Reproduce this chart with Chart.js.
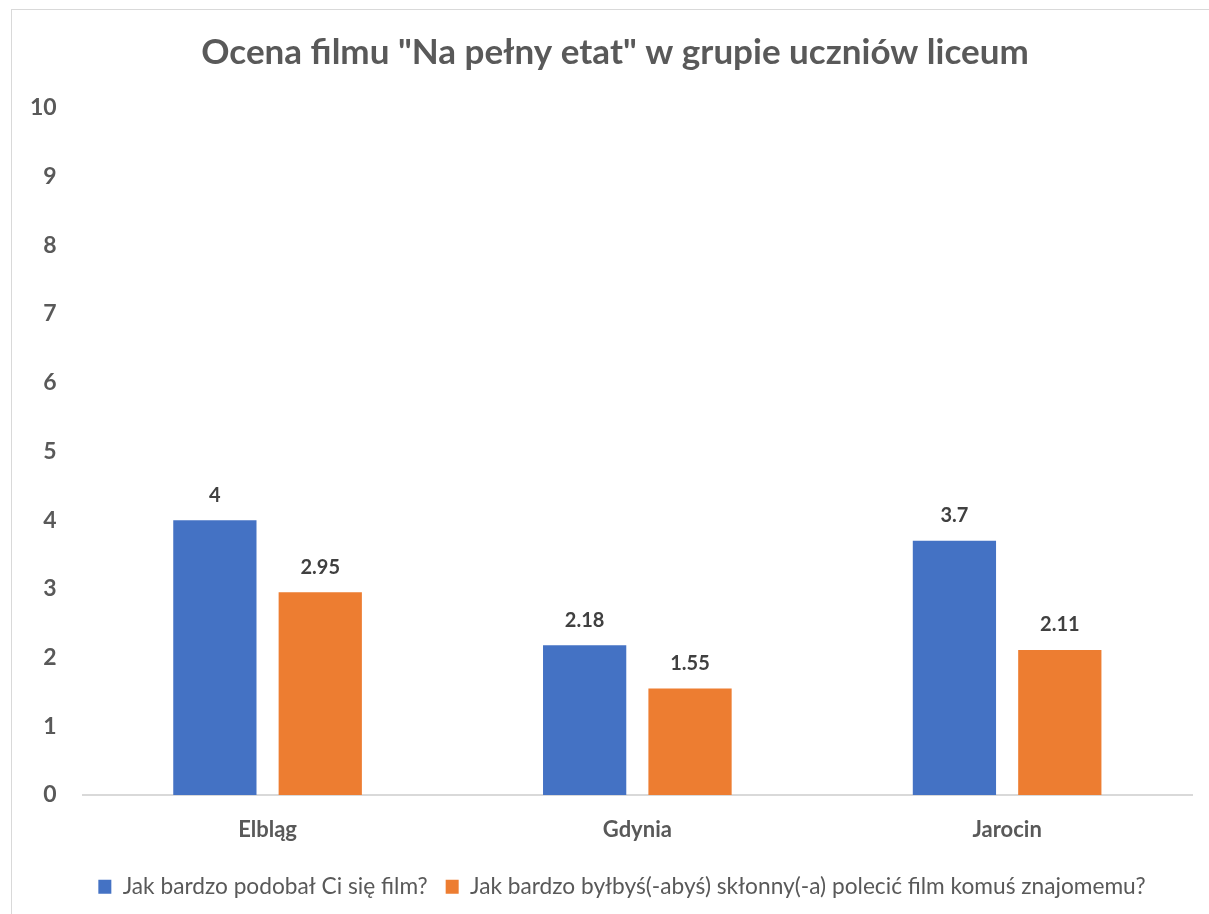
<!DOCTYPE html>
<html><head><meta charset="utf-8">
<script src="https://cdn.jsdelivr.net/npm/chart.js@4"></script>
<style>
html,body{margin:0;padding:0;background:#fff;}
#wrap{position:absolute;left:11px;top:9px;width:1210px;height:910px;border:1px solid #d9d9d9;box-sizing:border-box;background:#fff;}
canvas{display:block;}
</style></head><body>
<div id="wrap"><canvas id="c"></canvas></div>
<script>
const categories = ["Elbląg", "Gdynia", "Jarocin"];
const seriesLiked = [4, 2.18, 3.7];
const seriesRecommend = [2.95, 1.55, 2.11];
const seriesNames = ["Jak bardzo podobał Ci się film?", "Jak bardzo byłbyś(-abyś) skłonny(-a) polecić film komuś znajomemu?"];
const yTicks = [0,1,2,3,4,5,6,7,8,9,10];
const titleText = 'Ocena filmu "Na pełny etat" w grupie uczniów liceum';

const FONT = "Lato, 'Open Sans', sans-serif";

const labelPlugin = {
  id: 'barLabels',
  afterLayout(chart) {
    if (chart.titleBlock) { chart.titleBlock.left += 13; chart.titleBlock.right += 13; }
    if (chart.legend) { chart.legend.left += 20; chart.legend.right += 20; }
  },
  afterDatasetsDraw(chart) {
    const ctx = chart.ctx;
    ctx.save();
    ctx.font = "bold 20px " + FONT;
    ctx.fillStyle = '#404040';
    ctx.textAlign = 'center';
    ctx.textBaseline = 'bottom';
    chart.data.datasets.forEach((ds, i) => {
      chart.getDatasetMeta(i).data.forEach((bar, j) => {
        ctx.fillText(String(ds.data[j]), bar.x, bar.y - 15);
      });
    });
    ctx.restore();
  }
};

new Chart(document.getElementById('c'), {
  type: 'bar',
  data: {
    labels: categories,
    datasets: [
      {label: seriesNames[0], data: seriesLiked, backgroundColor: '#4472c4', categoryPercentage: 0.57, barPercentage: 0.79},
      {label: seriesNames[1], data: seriesRecommend, backgroundColor: '#ed7d31', categoryPercentage: 0.57, barPercentage: 0.79}
    ]
  },
  options: {
    responsive: true,
    maintainAspectRatio: false,
    animation: false,
    layout: {padding: {left: 0, right: 28, top: 12, bottom: 10}},
    plugins: {
      title: {display: true, text: titleText, color: '#595959', font: {family: FONT, size: 35, weight: 'bold'}, padding: {top: 10, bottom: 34}},
      legend: {position: 'bottom', labels: {color: '#595959', font: {family: FONT, size: 22.7}, boxWidth: 13, boxHeight: 14, padding: 18}},
      tooltip: {enabled: false}
    },
    scales: {
      x: {
        grid: {display: false},
        border: {display: true, color: '#d9d9d9', width: 2},
        ticks: {color: '#595959', font: {family: FONT, size: 22, weight: 'bold'}, padding: 14}
      },
      y: {
        min: 0, max: 10,
        afterBuildTicks: (s) => { s.ticks = yTicks.map(v => ({value: v})); },
        grid: {display: false},
        border: {display: false},
        ticks: {color: '#595959', font: {family: FONT, size: 23, weight: 'bold'}, padding: 18}
      }
    }
  },
  plugins: [labelPlugin]
});
</script>
</body></html>
